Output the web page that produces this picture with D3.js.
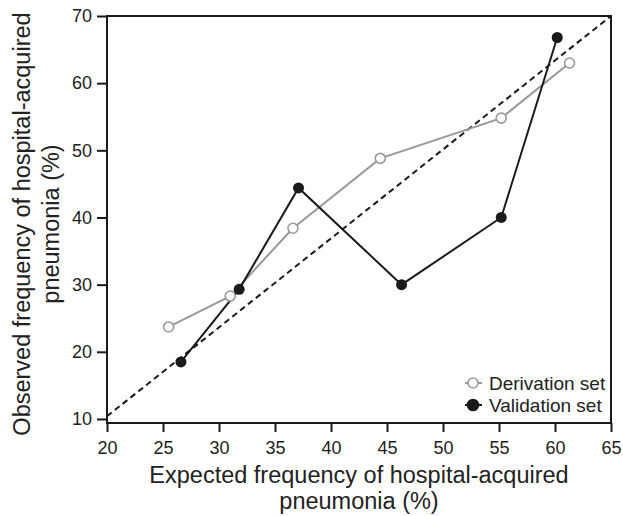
<!DOCTYPE html>
<html><head><meta charset="utf-8">
<script src="https://cdn.jsdelivr.net/npm/d3@7"></script>
<style>body{margin:0;background:#fff}svg{display:block}text{font-family:"Liberation Sans",Arial,sans-serif;fill:#222}</style>
</head><body><svg id="c" width="623" height="516"></svg>
<script>
const derivX = [25.5, 31.0, 36.6, 44.4, 55.2, 61.3];
const derivY = [23.7, 28.3, 38.4, 48.8, 54.8, 63.0];
const validX = [26.6, 31.8, 37.1, 46.3, 55.2, 60.2];
const validY = [18.5, 29.3, 44.4, 30.0, 40.0, 66.8];
const refX = [20, 65];
const refY = [10.4, 70];
const xTicks = [20, 25, 30, 35, 40, 45, 50, 55, 60, 65];
const yTicks = [10, 20, 30, 40, 50, 60, 70];
const seriesNames = ["Derivation set", "Validation set"];
const xTitle = ["Expected frequency of hospital-acquired", "pneumonia (%)"];
const yTitle = ["Observed frequency of hospital-acquired", "pneumonia (%)"];

const svg = d3.select("#c");
const L = 107, R = 611, T = 16, B = 423;
const x = d3.scaleLinear().domain([20, 65]).range([L, R]);
const y = d3.scaleLinear().domain([9.4, 70]).range([B, T]);

// frame
svg.append("rect").attr("x", L).attr("y", T).attr("width", R - L).attr("height", B - T)
  .attr("fill", "none").attr("stroke", "#1a1a1a").attr("stroke-width", 2);

const xa = svg.append("g").attr("transform", `translate(0,${B})`)
  .call(d3.axisBottom(x).tickValues(xTicks).tickSize(9).tickPadding(9));
const ya = svg.append("g").attr("transform", `translate(${L},0)`)
  .call(d3.axisLeft(y).tickValues(yTicks).tickSize(10).tickPadding(5));
[xa, ya].forEach(a => {
  a.select(".domain").remove();
  a.selectAll("line").attr("stroke", "#1a1a1a").attr("stroke-width", 2);
  a.selectAll("text").attr("font-size", 18).attr("fill", "#222")
    .style("font-family", '"Liberation Sans",Arial,sans-serif');
});

const line = d3.line().x(d => x(d[0])).y(d => y(d[1]));
const ref = refX.map((v, i) => [v, refY[i]]);
svg.append("path").attr("d", line(ref)).attr("fill", "none")
  .attr("stroke", "#1a1a1a").attr("stroke-width", 2).attr("stroke-dasharray", "6,4");

const deriv = derivX.map((v, i) => [v, derivY[i]]);
const valid = validX.map((v, i) => [v, validY[i]]);

svg.append("path").attr("d", line(deriv)).attr("fill", "none")
  .attr("stroke", "#999").attr("stroke-width", 2);
svg.append("path").attr("d", line(valid)).attr("fill", "none")
  .attr("stroke", "#1a1a1a").attr("stroke-width", 2);

svg.selectAll(".dv").data(deriv).join("circle")
  .attr("cx", d => x(d[0])).attr("cy", d => y(d[1])).attr("r", 5)
  .attr("fill", "#fff").attr("stroke", "#999").attr("stroke-width", 1.6);
svg.selectAll(".vl").data(valid).join("circle")
  .attr("cx", d => x(d[0])).attr("cy", d => y(d[1])).attr("r", 5.5)
  .attr("fill", "#1a1a1a");

// legend
const lg = svg.append("g");
const legY = [383, 405];
const styles = [{s: "#999", f: "#fff", r: 5}, {s: "#1a1a1a", f: "#1a1a1a", r: 5.5}];
seriesNames.forEach((n, i) => {
  const g = lg.append("g").attr("transform", `translate(473,${legY[i]})`);
  g.append("line").attr("x1", -8).attr("x2", 9).attr("stroke", styles[i].s).attr("stroke-width", 2);
  g.append("circle").attr("r", styles[i].r).attr("fill", styles[i].f).attr("stroke", styles[i].s).attr("stroke-width", 1.6);
  g.append("text").attr("x", 16).attr("dy", "0.35em").attr("font-size", 19).text(n);
});

// titles
const cx = (L + R) / 2;
svg.append("text").attr("x", cx).attr("y", 483).attr("text-anchor", "middle")
  .attr("font-size", 23.5).text(xTitle[0]);
svg.append("text").attr("x", cx).attr("y", 509).attr("text-anchor", "middle")
  .attr("font-size", 23.5).text(xTitle[1]);
svg.append("text").attr("transform", "translate(30,224) rotate(-90)").attr("text-anchor", "middle")
  .attr("font-size", 23.5).text(yTitle[0]);
svg.append("text").attr("transform", "translate(59,224) rotate(-90)").attr("text-anchor", "middle")
  .attr("font-size", 23.5).text(yTitle[1]);
</script></body></html>
